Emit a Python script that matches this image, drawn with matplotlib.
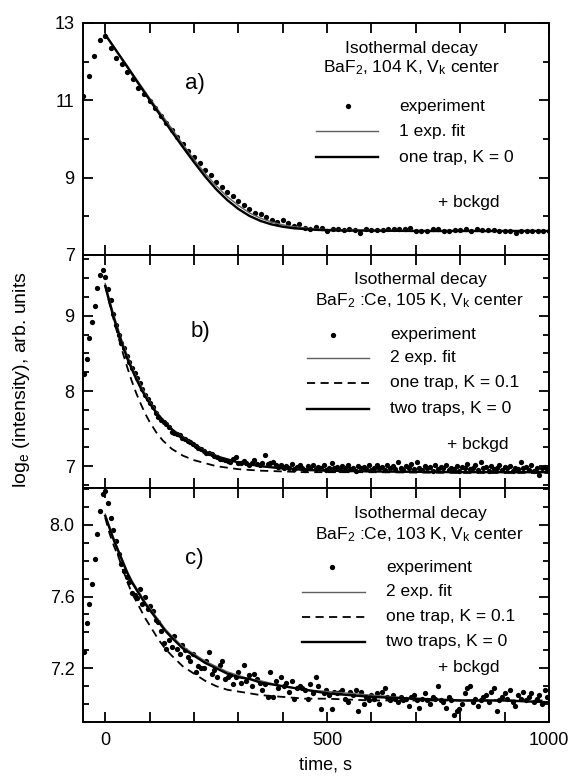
import matplotlib
matplotlib.use('Agg')
import matplotlib.pyplot as plt
from matplotlib.ticker import FormatStrFormatter
from matplotlib.lines import Line2D

plt.rcParams['font.family'] = ['Liberation Sans', 'DejaVu Sans']
plt.rcParams['mathtext.default'] = 'regular'

# ---- data --------------------------------------------------------------
# time grids of the measured points (s)
t_a = [-50, -37.5, -25, -12.5, 0, 12.5, 25, 37.5, 50, 62.5, 75, 87.5, 100,
       112.5, 125, 137.5, 150, 162.5, 175, 187.5, 200, 212.5, 225, 237.5, 250,
       262.5, 275, 287.5, 300, 312.5, 325, 337.5, 350, 362.5, 375, 387.5, 400,
       412.5, 425, 437.5, 450, 462.5, 475, 487.5, 500, 512.5, 525, 537.5, 550,
       562.5, 575, 587.5, 600, 612.5, 625, 637.5, 650, 662.5, 675, 687.5, 700,
       712.5, 725, 737.5, 750, 762.5, 775, 787.5, 800, 812.5, 825, 837.5, 850,
       862.5, 875, 887.5, 900, 912.5, 925, 937.5, 950, 962.5, 975, 987.5, 1000]

t_bc = [-48, -42, -36, -30, -24, -18, -12, -6, 0, 6, 12, 18, 24, 30, 36, 42,
        48, 54, 60, 66, 72, 78, 84, 90, 96, 102, 108, 114, 120, 126, 132, 138,
        144, 150, 156, 162, 168, 174, 180, 186, 192, 198, 204, 210, 216, 222,
        228, 234, 240, 246, 252, 258, 264, 270, 276, 282, 288, 294, 300, 306,
        312, 318, 324, 330, 336, 342, 348, 354, 360, 366, 372, 378, 384, 390,
        396, 402, 408, 414, 420, 426, 432, 438, 444, 450, 456, 462, 468, 474,
        480, 486, 492, 498, 504, 510, 516, 522, 528, 534, 540, 546, 552, 558,
        564, 570, 576, 582, 588, 594, 600, 606, 612, 618, 624, 630, 636, 642,
        648, 654, 660, 666, 672, 678, 684, 690, 696, 702, 708, 714, 720, 726,
        732, 738, 744, 750, 756, 762, 768, 774, 780, 786, 792, 798, 804, 810,
        816, 822, 828, 834, 840, 846, 852, 858, 864, 870, 876, 882, 888, 894,
        900, 906, 912, 918, 924, 930, 936, 942, 948, 954, 960, 966, 972, 978,
        984, 990, 996]

# a) BaF2, 104 K
exp_a = [11.11, 11.63, 12.14, 12.57, 12.67, 12.34, 12.10, 11.93, 11.74, 11.54,
         11.33, 11.16, 10.99, 10.80, 10.60, 10.41, 10.23, 10.05, 9.87, 9.69,
         9.53, 9.38, 9.21, 9.06, 8.90, 8.75, 8.63, 8.53, 8.40, 8.30,
         8.19, 8.09, 8.07, 7.98, 7.90, 7.86, 7.91, 7.82, 7.75, 7.79,
         7.69, 7.68, 7.73, 7.71, 7.63,
         7.66, 7.66, 7.64, 7.66, 7.64, 7.56, 7.67, 7.64, 7.64, 7.65,
         7.66, 7.66, 7.66, 7.66, 7.70, 7.63, 7.61, 7.63, 7.66, 7.67,
         7.63, 7.63, 7.64, 7.64, 7.66, 7.63, 7.66, 7.64, 7.64, 7.64,
         7.63, 7.61, 7.63, 7.58, 7.61, 7.61, 7.61, 7.61, 7.63, 7.61]

fit_t_a = [0, 25, 50, 75, 100, 125, 150, 175, 200, 225, 250, 275, 300, 325,
           350, 375, 400, 425, 450, 475, 500, 550, 600, 700, 800, 900, 1000]
exp1_a = [12.72, 12.30, 11.89, 11.47, 11.06, 10.66, 10.27, 9.86, 9.47, 9.11,
          8.79, 8.51, 8.28, 8.09, 7.95, 7.85, 7.78, 7.73, 7.70, 7.67, 7.66,
          7.65, 7.64, 7.63, 7.63, 7.63, 7.63]
trap1_a = [12.70, 12.28, 11.86, 11.43, 11.01, 10.60, 10.19, 9.79, 9.40, 9.03,
           8.70, 8.42, 8.19, 8.01, 7.88, 7.79, 7.73, 7.69, 7.67, 7.65, 7.64,
           7.63, 7.63, 7.62, 7.62, 7.62, 7.62]

# b) BaF2:Ce, 105 K
exp_b = [8.23, 8.42, 8.70, 8.92, 9.13, 9.37, 9.55, 9.61, 9.52,
         9.36, 9.21, 9.03, 8.88, 8.75, 8.64, 8.57, 8.47, 8.39, 8.31,
         8.24, 8.17, 8.10, 8.03, 7.95, 7.89, 7.84, 7.79, 7.71, 7.66,
         7.62, 7.59, 7.56, 7.52, 7.46, 7.44, 7.43, 7.41, 7.38, 7.36,
         7.33, 7.32, 7.30, 7.27, 7.24, 7.23, 7.20, 7.18, 7.17, 7.16,
         7.14, 7.12, 7.10, 7.09, 7.08, 7.07, 7.06, 7.10, 7.12, 7.04,
         7.04, 7.07, 7.04, 7.01, 7.04, 7.08, 7.03, 7.01, 7.04, 7.15,
         7.03, 7.04, 7.06, 7.02,
         6.99, 7.02, 6.97, 7.00, 6.98, 7.03, 6.96, 6.99, 7.01, 6.97,
         6.95, 7.00, 6.98, 7.02, 6.96, 6.99, 6.97, 7.01, 6.95, 6.98,
         7.04, 6.97, 6.99, 6.95, 7.00, 6.97, 7.02, 6.96, 6.98, 6.94,
         7.00, 6.97, 6.99, 6.96, 7.01, 6.95, 6.98, 7.02, 6.97, 6.99,
         6.95, 7.01, 6.97, 7.00, 6.96, 7.06, 6.98, 6.95, 7.00, 6.97,
         7.03, 6.96, 7.05, 6.98, 6.95, 7.00, 6.97, 6.99, 6.94, 7.01,
         6.96, 6.99, 6.97, 7.02, 6.95, 6.98, 6.96, 7.00, 6.94, 6.99,
         6.97, 7.03, 6.96, 6.98, 7.01, 6.95, 7.05, 6.97, 6.99, 6.94,
         7.00, 6.96, 6.98, 7.02, 6.95, 6.99, 6.97, 7.00, 6.94, 6.98,
         6.96, 7.06, 6.97, 6.99, 6.95, 7.01, 6.94, 6.98, 6.88, 6.97,
         6.99, 6.96]

fit_t_b = [0, 10, 20, 30, 40, 50, 60, 70, 80, 90, 100, 115, 130, 150, 175,
           200, 225, 250, 275, 300, 350, 400, 450, 500, 600, 800, 1000]
exp2_b = [9.43, 9.21, 9.00, 8.81, 8.63, 8.47, 8.32, 8.19, 8.07, 7.96, 7.86,
          7.73, 7.62, 7.50, 7.38, 7.28, 7.20, 7.14, 7.09, 7.05, 7.00, 6.97,
          6.95, 6.94, 6.93, 6.92, 6.92]
trap1_b = [9.40, 9.16, 8.93, 8.71, 8.50, 8.31, 8.13, 7.97, 7.83, 7.70, 7.59,
           7.45, 7.34, 7.23, 7.14, 7.08, 7.04, 7.00, 6.98, 6.96, 6.94, 6.93,
           6.92, 6.92, 6.92, 6.91, 6.91]
trap2_b = [9.40, 9.17, 8.96, 8.77, 8.59, 8.43, 8.29, 8.16, 8.04, 7.93, 7.84,
           7.71, 7.61, 7.49, 7.37, 7.27, 7.19, 7.13, 7.09, 7.05, 7.00, 6.97,
           6.95, 6.94, 6.93, 6.92, 6.92]

# c) BaF2:Ce, 103 K
exp_c = [7.29, 7.45, 7.56, 7.67, 7.81, 7.95, 8.08, 8.17, 8.19,
         8.12, 8.04, 7.97, 7.91, 7.84, 7.78, 7.74, 7.71, 7.68, 7.62,
         7.61, 7.59, 7.64, 7.56, 7.60, 7.53, 7.55, 7.52, 7.47, 7.46,
         7.41, 7.34, 7.31, 7.36, 7.32, 7.38, 7.31, 7.28, 7.33, 7.30,
         7.26, 7.24, 7.28, 7.18, 7.21, 7.20, 7.20, 7.24, 7.29, 7.17,
         7.19, 7.15, 7.22, 7.24, 7.14, 7.15, 7.16, 7.11, 7.15, 7.18,
         7.12, 7.22, 7.13, 7.16, 7.10, 7.17, 7.14, 7.12, 7.08, 7.11,
         7.04, 7.18, 7.04, 7.13, 7.09, 7.15, 7.10, 7.12, 7.07, 7.13,
         7.03, 7.09, 7.10, 7.09, 7.08, 7.03, 7.11, 7.06, 7.15, 7.10,
         6.97, 7.06, 7.08,
         7.05, 6.97, 7.07, 7.06, 7.07, 7.08, 7.03, 7.01, 7.07, 7.05,
         7.08, 6.96, 7.07, 7.00, 7.04, 7.02, 7.05, 7.03, 7.06, 7.00,
         7.07, 7.09, 7.04, 7.02, 7.05, 7.03, 7.01, 7.04, 7.02, 7.03,
         6.99, 7.04, 7.05, 7.02, 6.98, 7.03, 7.06, 7.02, 7.00, 7.04,
         7.03, 7.10, 7.02, 7.01, 6.98, 7.04, 7.02, 6.94, 6.96, 6.97,
         7.00, 7.06, 7.09, 7.10, 7.01, 7.03, 6.99, 7.02, 7.04, 7.05,
         7.01, 7.07, 7.09, 6.96, 7.02, 7.04, 7.06, 7.03, 7.08, 7.01,
         6.99, 7.05, 7.03, 7.07, 7.02, 7.04, 7.06, 7.01, 7.03, 7.05,
         7.00, 7.08, 7.04]

fit_t_c = [0, 10, 20, 30, 40, 50, 60, 75, 90, 105, 120, 135, 150, 175, 200,
           225, 250, 275, 300, 325, 350, 400, 450, 500, 600, 700, 800, 900, 1000]
exp2_c = [8.06, 7.99, 7.92, 7.86, 7.80, 7.74, 7.69, 7.63, 7.57, 7.52, 7.47,
          7.42, 7.38, 7.32, 7.28, 7.24, 7.21, 7.18, 7.16, 7.14, 7.13, 7.10,
          7.08, 7.07, 7.05, 7.03, 7.02, 7.02, 7.01]
trap1_c = [8.04, 7.95, 7.88, 7.82, 7.75, 7.68, 7.62, 7.55, 7.48, 7.42, 7.36,
           7.31, 7.27, 7.21, 7.17, 7.13, 7.10, 7.08, 7.07, 7.06, 7.05, 7.04,
           7.03, 7.03, 7.02, 7.02, 7.02, 7.02, 7.02]
trap2_c = [8.05, 7.98, 7.91, 7.85, 7.79, 7.73, 7.68, 7.62, 7.56, 7.51, 7.46,
           7.41, 7.37, 7.31, 7.27, 7.23, 7.20, 7.17, 7.15, 7.14, 7.12, 7.10,
           7.08, 7.06, 7.04, 7.03, 7.02, 7.02, 7.01]

x_ticks = [0, 100, 200, 300, 400, 500, 600, 700, 800, 900, 1000]
x_ticklabels = ['0', '', '', '', '', '500', '', '', '', '', '1000']

# y ticks per panel (major labelled, minor unlabelled)
y_major_a = [7, 9, 11, 13]
y_minor_a = [8, 10, 12]
y_major_b = [7, 8, 9]
y_minor_b = [6.75, 7.25, 7.5, 7.75, 8.25, 8.5, 8.75, 9.25, 9.5, 9.75]
y_major_c = [7.2, 7.6, 8.0]
y_minor_c = [6.9, 7.0, 7.1, 7.3, 7.4, 7.5, 7.7, 7.8, 7.9, 8.1, 8.2]

# ---- styles ------------------------------------------------------------
THIN = dict(color='#606060', lw=1.0)
THICK = dict(color='black', lw=1.7)
DASH = dict(color='black', lw=1.3, dashes=(4.5, 3))
DOT = dict(ls='none', marker='o', ms=3.8, color='black', mec='none')
FS = 13
LFS = 12.5

fig = plt.figure(figsize=(5.71, 7.79), dpi=100)
ax_a = fig.add_axes([0.1454, 0.6727, 0.8161, 0.2978])
ax_b = fig.add_axes([0.1454, 0.3736, 0.8161, 0.2991])
ax_c = fig.add_axes([0.1454, 0.0732, 0.8161, 0.3004])


def style_axis(ax, ylim, major, minor, fmt, show_x):
    ax.set_xlim(-50, 1000)
    ax.set_ylim(*ylim)
    ax.set_xticks(x_ticks)
    ax.set_xticklabels(x_ticklabels if show_x else [])
    ax.set_yticks(major)
    ax.set_yticks(minor, minor=True)
    ax.yaxis.set_major_formatter(FormatStrFormatter(fmt))
    ax.tick_params(which='both', direction='in', top=True, right=True,
                   width=1.3, labelsize=FS)
    ax.tick_params(which='major', length=7)
    ax.tick_params(which='minor', length=4)
    ax.tick_params(axis='x', pad=7)
    ax.tick_params(axis='y', pad=6)
    for s in ax.spines.values():
        s.set_linewidth(1.4)


def legend_block(ax, title2, rows, tx, mx, lx0, lx1, ys, bx, by):
    tr = ax.transAxes
    ax.text(tx, ys[0], 'Isothermal decay', transform=tr, ha='center',
            va='center', fontsize=LFS)
    ax.text(tx, ys[1], title2, transform=tr, ha='center', va='center',
            fontsize=LFS)
    for (label, kind), y in zip(rows, ys[2:]):
        if kind == 'dot':
            ax.add_line(Line2D([mx], [y], transform=tr, **DOT))
        else:
            st = {'thin': THIN, 'thick': THICK, 'dash': DASH}[kind]
            ax.add_line(Line2D([lx0, lx1], [y, y], transform=tr, **st))
        ax.text(lx1 + 0.045, y, label, transform=tr,
                ha='left', va='center', fontsize=LFS)
    ax.text(bx, by, '+ bckgd', transform=tr, ha='left', va='center',
            fontsize=LFS)


# a)
ax_a.plot(t_a, exp_a, **DOT)
ax_a.plot(fit_t_a, exp1_a, **THIN)
ax_a.plot(fit_t_a, trap1_a, **THICK)
style_axis(ax_a, (7, 13), y_major_a, y_minor_a, '%d', False)
ax_a.text(0.219, 0.741, 'a)', transform=ax_a.transAxes, fontsize=16,
          va='center')
legend_block(ax_a, 'BaF$_2$, 104 K, V$_k$ center',
             [('experiment', 'dot'), ('1 exp. fit', 'thin'),
              ('one trap, K = 0', 'thick')],
             0.705, 0.569, 0.500, 0.633, [0.892, 0.806, 0.642, 0.534, 0.422],
             0.762, 0.228)

# b)
ax_b.plot(t_bc, exp_b, **DOT)
ax_b.plot(fit_t_b, exp2_b, **THIN)
ax_b.plot(fit_t_b, trap1_b, **DASH)
ax_b.plot(fit_t_b, trap2_b, **THICK)
style_axis(ax_b, (6.71, 9.81), y_major_b, y_minor_b, '%d', False)
ax_b.text(0.23, 0.67, 'b)', transform=ax_b.transAxes, fontsize=16,
          va='center')
legend_block(ax_b, 'BaF$_2$ :Ce, 105 K, V$_k$ center',
             [('experiment', 'dot'), ('2 exp. fit', 'thin'),
              ('one trap, K = 0.1', 'dash'), ('two traps, K = 0', 'thick')],
             0.723, 0.536, 0.481, 0.614,
             [0.893, 0.803, 0.657, 0.558, 0.451, 0.339], 0.781, 0.185)

# c)
ax_c.plot(t_bc, exp_c, **DOT)
ax_c.plot(fit_t_c, exp2_c, **THIN)
ax_c.plot(fit_t_c, trap1_c, **DASH)
ax_c.plot(fit_t_c, trap2_c, **THICK)
style_axis(ax_c, (6.90, 8.206), y_major_c, y_minor_c, '%.1f', True)
ax_c.text(0.219, 0.697, 'c)', transform=ax_c.transAxes, fontsize=16,
          va='center')
legend_block(ax_c, 'BaF$_2$ :Ce, 103 K, V$_k$ center',
             [('experiment', 'dot'), ('2 exp. fit', 'thin'),
              ('one trap, K = 0.1', 'dash'), ('two traps, K = 0', 'thick')],
             0.723, 0.534, 0.470, 0.605,
             [0.889, 0.799, 0.662, 0.556, 0.449, 0.342], 0.762, 0.231)

fig.text(0.5692, 0.018, 'time, s', ha='center', va='center', fontsize=FS)
fig.text(0.038, 0.512, 'log$_e$ (intensity), arb. units', rotation=90,
         ha='center', va='center', fontsize=14)

fig.savefig('out.png', dpi=100)
